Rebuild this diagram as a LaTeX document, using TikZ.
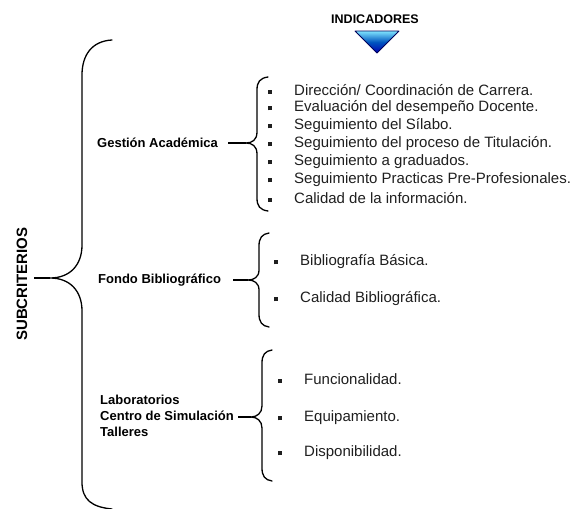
\documentclass[tikz,border=0pt]{standalone}
\usepackage{fontspec}
\setmainfont{Liberation Sans}
\begin{document}
\newcommand{\blt}{\rule[0.2ex]{4pt}{4pt}\hspace{22pt}}
\begin{tikzpicture}[x=1pt,y=-1pt,
  lbl/.style={font=\fontsize{13}{16}\selectfont\bfseries, anchor=west, inner sep=0pt, align=left},
  itm/.style={font=\fontsize{15}{17}\selectfont, text=black!88, anchor=west, inner sep=0pt},
  brace/.style={line width=1.3pt, line cap=round},
  tick/.style={line width=1.3pt}]
\useasboundingbox (0,0) rectangle (582,509);

% heading and pointer
\node[font=\fontsize{12.5}{14}\selectfont\bfseries, inner sep=0pt] (ind) at (375,19) {INDICADORES};
\shadedraw[top color=blue!20!cyan!50!white, bottom color=blue!70!black, middle color=blue!55!cyan!75!black,
  draw=blue!35!black, line width=0.8pt, line join=round] (355,31) -- (399,31) -- (377,53) -- cycle;

% main brace
\coordinate (mtip) at (34,278);
\coordinate (mcusp) at (50,278);
\draw[brace] (112,40) .. controls (92,41) and (82,55) .. (82,75) -- (82,245)
  .. controls (82,265) and (70,278) .. (mcusp)
  .. controls (70,278) and (82,291) .. (82,311) -- (82,482)
  .. controls (82,500) and (92,507) .. (112,509);
\draw[tick] (mtip) -- (mcusp);
\node[rotate=90, font=\fontsize{15}{17}\selectfont\bfseries, inner sep=0pt] (sub) at (22,284) {SUBCRITERIOS};

% group 1
\node[lbl] (ga) at (97,143) {Gestión Académica};
\coordinate (gtip) at (246,143);
\draw[brace] (268,77) .. controls (260,78) and (257,82) .. (257,90) -- (257,132)
  .. controls (257,140) and (252,143) .. (gtip)
  .. controls (252,143) and (257,146) .. (257,154) -- (257,198)
  .. controls (257,206) and (260,210) .. (268,211);
\draw[tick] (ga.east) ++(10,0) coordinate (gs) -- (gtip);
\node[itm] (g1) at (268,90)  {\blt Dirección/ Coordinación de Carrera.};
\node[itm] (g2) at (268,108) {\blt Evaluación del desempeño Docente.};
\node[itm] (g3) at (268,126) {\blt Seguimiento del Sílabo.};
\node[itm] (g4) at (268,144) {\blt Seguimiento del proceso de Titulación.};
\node[itm] (g5) at (268,162) {\blt Seguimiento a graduados.};
\node[itm] (g6) at (268,180) {\blt Seguimiento Practicas Pre-Profesionales.};
\node[itm] (g7) at (268,198) {\blt Calidad de la información.};

% group 2
\node[lbl] (fb) at (98,280) {Fondo Bibliográfico};
\coordinate (ftip) at (248,280);
\draw[brace] (269,233) .. controls (262,234) and (259,238) .. (259,246) -- (259,270)
  .. controls (259,277) and (254,280) .. (ftip)
  .. controls (254,280) and (259,283) .. (259,290) -- (259,314)
  .. controls (259,322) and (262,326) .. (269,327);
\draw[tick] (233,280) coordinate (fs) -- (ftip);
\node[itm] (f1) at (274,262) {\blt Bibliografía Básica.};
\node[itm] (f2) at (274,299) {\blt Calidad Bibliográfica.};

% group 3
\node[lbl, font=\fontsize{13}{16}\selectfont\bfseries] (lab) at (100,416) {Laboratorios\\Centro de Simulación\\Talleres};
\coordinate (ltip) at (251,417);
\draw[brace] (272,350) .. controls (265,351) and (262,355) .. (262,363) -- (262,406)
  .. controls (262,413) and (257,417) .. (ltip)
  .. controls (257,417) and (262,421) .. (262,428) -- (262,468)
  .. controls (262,476) and (265,480) .. (272,481);
\draw[tick] (lab.east |- ltip) ++(4,0) coordinate (ls) -- (ltip);
\node[itm] (l1) at (278,379) {\blt Funcionalidad.};
\node[itm] (l2) at (278,418) {\blt Equipamiento.};
\node[itm] (l3) at (278,453) {\blt Disponibilidad.};
\end{tikzpicture}
\end{document}
